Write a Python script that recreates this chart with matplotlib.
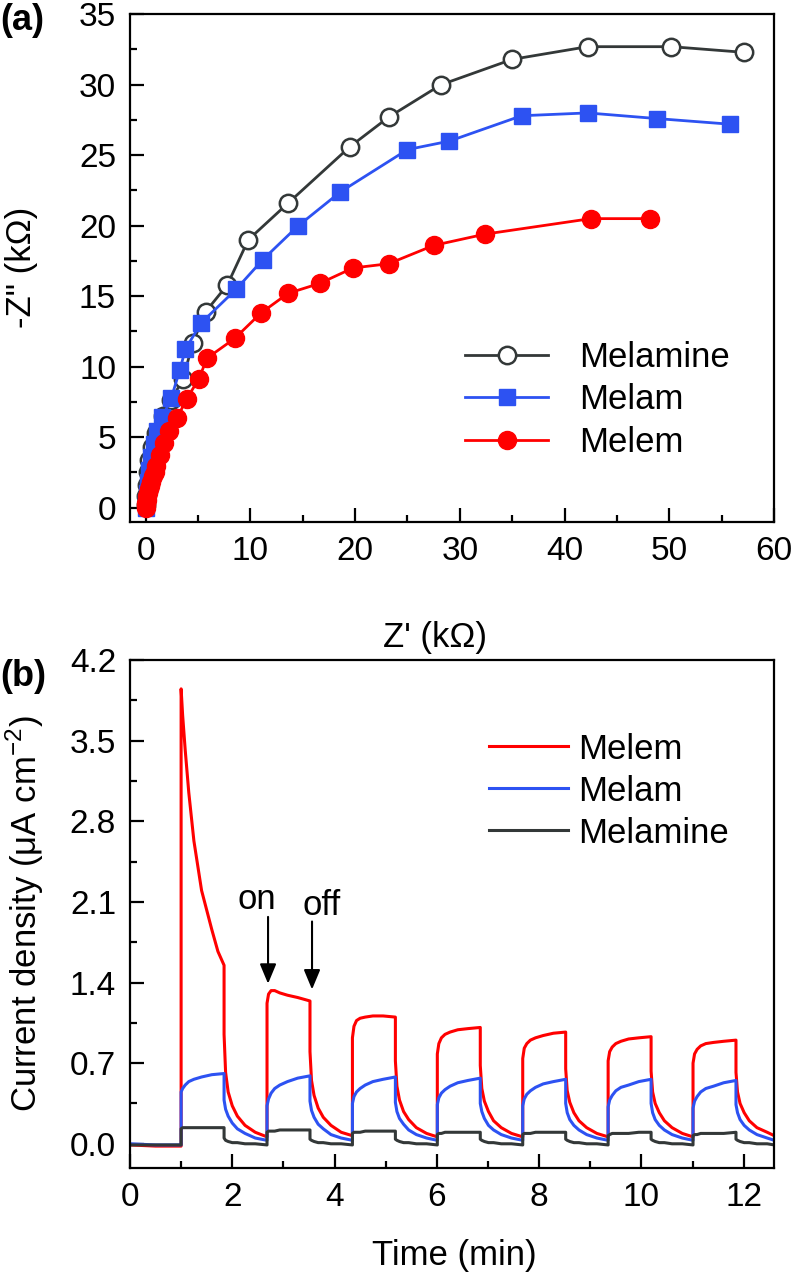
import matplotlib
matplotlib.use("Agg")
import matplotlib.pyplot as plt
from matplotlib.ticker import MultipleLocator

plt.rcParams["font.family"] = ["Liberation Sans", "DejaVu Sans"]
plt.rcParams["mathtext.fontset"] = "custom"
plt.rcParams["mathtext.rm"] = "Liberation Sans"

# ---- panel (a): Nyquist plot, Z' and -Z'' in kOhm ----
melamine_x = [0.0, 0.03, 0.1, 0.2, 0.35, 0.6, 1.0, 1.65, 2.45, 3.57, 4.5, 5.73,
              7.8, 9.8, 13.6, 19.5, 23.2, 28.2, 35.0, 42.2, 50.2, 57.1]
melamine_y = [0.2, 0.8, 1.6, 2.5, 3.4, 4.3, 5.3, 6.47, 7.66, 9.1, 11.7, 13.9,
              15.8, 19.0, 21.6, 25.6, 27.7, 30.0, 31.8, 32.7, 32.7, 32.3]
melam_x = [0.0, 0.03, 0.1, 0.2, 0.35, 0.55, 0.8, 1.1, 1.6, 2.45, 3.25, 3.8,
           5.3, 8.65, 11.2, 14.5, 18.6, 25.0, 29.0, 35.9, 42.2, 48.8, 55.8]
melam_y = [0.0, 0.4, 1.0, 1.8, 2.7, 3.6, 4.5, 5.4, 6.4, 7.78, 9.74, 11.25,
           13.1, 15.5, 17.6, 19.95, 22.4, 25.4, 26.0, 27.8, 28.0, 27.6, 27.2]
melem_x = [0.0, 0.03, 0.06, 0.1, 0.16, 0.22, 0.3, 0.38, 0.5, 0.7, 0.85, 1.02,
           1.34, 1.75, 2.2, 3.0, 3.9, 5.06, 5.86, 8.5, 11.0, 13.6, 16.6, 19.8,
           23.2, 27.5, 32.4, 42.5, 48.2]
melem_y = [0.0, 0.15, 0.33, 0.55, 0.8, 1.05, 1.3, 1.51, 1.85, 2.22, 2.55, 2.93,
           3.7, 4.6, 5.45, 6.35, 7.7, 9.1, 10.6, 12.0, 13.8, 15.2, 15.9, 17.0,
           17.3, 18.6, 19.4, 20.5, 20.5]

# ---- panel (b): transient photocurrent (uA cm^-2) vs time (min) ----
time_min = [0.0, 0.5, 1.0,
            1.0, 1.03, 1.08, 1.15, 1.25, 1.4, 1.6, 1.72, 1.84,
            1.84, 1.87, 1.92, 2.0, 2.1, 2.25, 2.45, 2.68,
            2.68, 2.71, 2.76, 2.83, 2.93, 3.08, 3.28, 3.52,
            3.52, 3.55, 3.60, 3.68, 3.78, 3.93, 4.13, 4.35,
            4.35, 4.38, 4.43, 4.50, 4.60, 4.75, 4.95, 5.19,
            5.19, 5.22, 5.27, 5.35, 5.45, 5.60, 5.80, 6.01,
            6.01, 6.04, 6.09, 6.16, 6.26, 6.41, 6.61, 6.85,
            6.85, 6.88, 6.93, 7.01, 7.11, 7.26, 7.46, 7.68,
            7.68, 7.71, 7.76, 7.83, 7.93, 8.08, 8.28, 8.52,
            8.52, 8.55, 8.60, 8.68, 8.78, 8.93, 9.13, 9.35,
            9.35, 9.38, 9.43, 9.50, 9.60, 9.75, 9.95, 10.19,
            10.19, 10.22, 10.27, 10.35, 10.45, 10.60, 10.80, 11.01,
            11.01, 11.04, 11.09, 11.16, 11.26, 11.41, 11.61, 11.85,
            11.85, 11.88, 11.93, 12.01, 12.11, 12.26, 12.46, 12.60]
melem_j = [-0.01, -0.02, -0.02,
           3.95, 3.72, 3.42, 3.05, 2.63, 2.20, 1.86, 1.67, 1.55,
           0.95, 0.62, 0.45, 0.33, 0.24, 0.16, 0.10, 0.06,
           1.22, 1.30, 1.33, 1.33, 1.31, 1.29, 1.27, 1.24,
           0.80, 0.55, 0.42, 0.31, 0.23, 0.16, 0.10, 0.07,
           0.92, 1.02, 1.07, 1.09, 1.10, 1.11, 1.11, 1.10,
           0.72, 0.50, 0.38, 0.28, 0.21, 0.14, 0.09, 0.06,
           0.78, 0.87, 0.92, 0.95, 0.97, 0.99, 1.00, 1.01,
           0.68, 0.48, 0.37, 0.28, 0.20, 0.14, 0.09, 0.06,
           0.74, 0.83, 0.87, 0.90, 0.92, 0.94, 0.96, 0.97,
           0.65, 0.46, 0.36, 0.27, 0.20, 0.14, 0.09, 0.06,
           0.72, 0.80, 0.84, 0.87, 0.89, 0.91, 0.92, 0.93,
           0.63, 0.45, 0.35, 0.27, 0.20, 0.14, 0.09, 0.06,
           0.70, 0.78, 0.82, 0.85, 0.87, 0.88, 0.89, 0.90,
           0.62, 0.45, 0.35, 0.27, 0.20, 0.14, 0.10, 0.07]
melam_j = [0.0, -0.01, -0.01,
           0.45, 0.48, 0.51, 0.54, 0.56, 0.58, 0.60, 0.605, 0.61,
           0.38, 0.30, 0.24, 0.18, 0.13, 0.09, 0.05, 0.03,
           0.33, 0.39, 0.44, 0.48, 0.51, 0.54, 0.57, 0.59,
           0.37, 0.29, 0.23, 0.17, 0.13, 0.08, 0.05, 0.03,
           0.35, 0.41, 0.45, 0.48, 0.51, 0.54, 0.56, 0.58,
           0.36, 0.28, 0.22, 0.17, 0.12, 0.08, 0.05, 0.03,
           0.34, 0.40, 0.44, 0.47, 0.50, 0.53, 0.55, 0.57,
           0.35, 0.28, 0.22, 0.16, 0.12, 0.08, 0.05, 0.03,
           0.33, 0.39, 0.43, 0.46, 0.49, 0.52, 0.54, 0.56,
           0.35, 0.27, 0.21, 0.16, 0.12, 0.08, 0.05, 0.03,
           0.32, 0.38, 0.42, 0.46, 0.49, 0.51, 0.54, 0.56,
           0.35, 0.27, 0.21, 0.16, 0.12, 0.08, 0.05, 0.03,
           0.31, 0.37, 0.41, 0.45, 0.48, 0.50, 0.53, 0.55,
           0.34, 0.27, 0.21, 0.16, 0.12, 0.08, 0.05, 0.03]
melamine_j = [-0.01, -0.01, -0.01,
              0.13, 0.14, 0.14, 0.14, 0.14, 0.14, 0.14, 0.14, 0.14,
              0.05, 0.03, 0.02, 0.01, 0.01, 0.00, 0.00, -0.01,
              0.10, 0.11, 0.11, 0.11, 0.12, 0.12, 0.12, 0.12,
              0.04, 0.03, 0.02, 0.01, 0.01, 0.00, 0.00, -0.01,
              0.09, 0.10, 0.10, 0.10, 0.11, 0.11, 0.11, 0.11,
              0.04, 0.03, 0.02, 0.01, 0.01, 0.00, 0.00, -0.01,
              0.08, 0.09, 0.09, 0.10, 0.10, 0.10, 0.10, 0.10,
              0.04, 0.03, 0.02, 0.01, 0.01, 0.00, 0.00, -0.01,
              0.08, 0.09, 0.09, 0.09, 0.10, 0.10, 0.10, 0.10,
              0.04, 0.03, 0.02, 0.01, 0.01, 0.00, 0.00, -0.01,
              0.07, 0.08, 0.09, 0.09, 0.09, 0.09, 0.10, 0.10,
              0.04, 0.03, 0.02, 0.01, 0.01, 0.00, 0.00, -0.01,
              0.07, 0.08, 0.08, 0.09, 0.09, 0.09, 0.09, 0.10,
              0.04, 0.03, 0.02, 0.01, 0.01, 0.00, 0.00, -0.01]

RED = "#ff0000"
BLUE = "#2d52f2"
DARK = "#333838"
TICK_FS = 24
LABEL_FS = 25


def style_axes(ax):
    for s in ax.spines.values():
        s.set_linewidth(1.6)
    ax.tick_params(which="both", direction="in", top=False, right=False,
                   width=1.6, labelsize=TICK_FS)
    ax.tick_params(axis="x", pad=10)
    ax.tick_params(axis="y", pad=10)
    ax.tick_params(which="major", length=10)
    ax.tick_params(which="minor", length=5)


fig = plt.figure(figsize=(7.92, 12.73), dpi=100)

# panel (a)
ax1 = fig.add_axes([0.1641, 0.5902, 0.8132, 0.3986])
ax1.plot(melamine_x, melamine_y, "-o", color=DARK, lw=2.0, ms=12.5,
         mfc="white", mec=DARK, mew=1.8, label="Melamine")
ax1.plot(melam_x, melam_y, "-s", color=BLUE, lw=2.0, ms=12,
         mfc=BLUE, mec=BLUE, label="Melam")
ax1.plot(melem_x, melem_y, "-o", color=RED, lw=2.0, ms=13,
         mfc=RED, mec=RED, label="Melem")
ax1.set_xlim(-1.5, 60)
ax1.set_ylim(-1, 35)
ax1.xaxis.set_major_locator(MultipleLocator(10))
ax1.xaxis.set_minor_locator(MultipleLocator(5))
ax1.yaxis.set_major_locator(MultipleLocator(5))
ax1.yaxis.set_minor_locator(MultipleLocator(2.5))
style_axes(ax1)
ax1.legend(loc="center left", bbox_to_anchor=(0.52, 0.24), frameon=False,
           fontsize=LABEL_FS, borderpad=0, handlelength=2.4,
           handletextpad=0.9, labelspacing=0.27, borderaxespad=0)

# panel (b)
ax2 = fig.add_axes([0.1641, 0.0825, 0.8136, 0.399])
ax2.plot(time_min, melem_j, color=RED, lw=2.2, label="Melem")
ax2.plot(time_min, melam_j, color=BLUE, lw=2.2, label="Melam")
ax2.plot(time_min, melamine_j, color=DARK, lw=2.2, label="Melamine")
ax2.set_xlim(0, 12.6)
ax2.set_ylim(-0.21, 4.2)
ax2.xaxis.set_major_locator(MultipleLocator(2))
ax2.xaxis.set_minor_locator(MultipleLocator(1))
ax2.yaxis.set_major_locator(MultipleLocator(0.7))
ax2.yaxis.set_minor_locator(MultipleLocator(0.35))
ax2.yaxis.set_major_formatter(plt.FormatStrFormatter("%.1f"))
style_axes(ax2)
ax2.legend(loc="center left", bbox_to_anchor=(0.557, 0.742), frameon=False,
           fontsize=LABEL_FS, borderpad=0, handlelength=2.28,
           handletextpad=0.3, labelspacing=0.26, borderaxespad=0)

ax2.annotate("", xy=(2.70, 1.39), xytext=(2.70, 1.97),
             arrowprops=dict(arrowstyle="-|>,head_length=0.6,head_width=0.25",
                             color="black", lw=1.5, mutation_scale=20,
                             shrinkA=0, shrinkB=0))
ax2.annotate("", xy=(3.56, 1.34), xytext=(3.56, 1.93),
             arrowprops=dict(arrowstyle="-|>,head_length=0.6,head_width=0.25",
                             color="black", lw=1.5, mutation_scale=20,
                             shrinkA=0, shrinkB=0))
ax2.text(2.49, 2.12, "on", fontsize=LABEL_FS, ha="center", va="center")
ax2.text(3.75, 2.07, "off", fontsize=LABEL_FS, ha="center", va="center")

# axis titles and panel letters, placed in figure pixels
W, H = 792, 1273
fig.text(22 / W, 1 - 267 / H, "-Z\" (k\u03a9)", rotation=90, ha="center",
         va="center", fontsize=LABEL_FS)
fig.text(435 / W, 1 - 638 / H, "Z' (k\u03a9)", ha="center", va="center",
         fontsize=LABEL_FS)
fig.text(25 / W, 1 - 914 / H, "Current density (\u03bcA cm$^{-2}$)",
         rotation=90, ha="center", va="center", fontsize=LABEL_FS)
fig.text(454 / W, 1 - 1256 / H, "Time (min)", ha="center", va="center",
         fontsize=LABEL_FS)
fig.text(0, 1 - 20 / H, "(a)", ha="left", va="center",
         fontsize=26, fontweight="bold")
fig.text(0, 1 - 677 / H, "(b)", ha="left", va="center",
         fontsize=26, fontweight="bold")

fig.savefig("out.png", dpi=100)
